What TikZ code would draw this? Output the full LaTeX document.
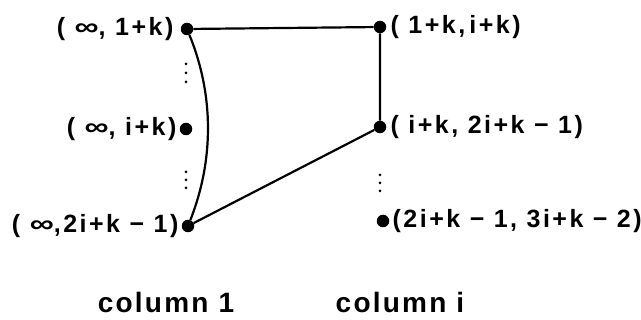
\documentclass[tikz,border=0pt]{standalone}
\usepackage{graphicx}
\usepackage{fontspec}
\setmainfont{Liberation Sans}
\newfontfamily\lblfont[LetterSpace=10]{Liberation Sans}
\newfontfamily\capfont[LetterSpace=8]{Liberation Sans}
\newcommand{\infsym}{\scalebox{1.35}[1]{∞}}
\usetikzlibrary{positioning}

\begin{document}
\begin{tikzpicture}[x=1pt,y=-1pt,
    vertex/.style={circle, fill=black, inner sep=0pt, minimum size=12.5pt},
    lbl/.style={font=\lblfont\bfseries\fontsize{25}{30}\selectfont, inner sep=1pt},
    caption/.style={font=\capfont\bfseries\fontsize{28}{32}\selectfont, inner sep=0pt, anchor=base},
    link/.style={line width=2.2pt}]
  \useasboundingbox (0,0) rectangle (641,320);
  % column 1
  \node[vertex] (a1) at (187,29) {};
  \node[vertex] (a2) at (186,129) {};
  \node[vertex] (a3) at (188,226) {};
  % column i
  \node[vertex] (b1) at (380,27) {};
  \node[vertex] (b2) at (380,127) {};
  \node[vertex] (b3) at (383,221) {};
  % labels
  \node[lbl, left=6pt of a1] (la1) {( \infsym, 1+k)};
  \node[lbl, left=2pt of a2] (la2) {( \infsym, i+k)};
  \node[lbl, left=2pt of a3] (la3) {( \infsym,2i+k − 1)};
  \node[lbl, right=3pt of b1] (lb1) {( 1+k,\,i+k)};
  \node[lbl, right=3pt of b2] (lb2) {( i+k, 2i+k − 1)};
  \node[lbl, right=2pt of b3] (lb3) {(2i+k − 1, 3i+k − 2)};
  % edges
  \draw[link] (a1) -- (b1) -- (b2) -- (a3);
  \draw[link] (a1) .. controls (214,95) and (214,160) .. (a3);
  % vertical dots
  \foreach \y in {64,73,82, 172,180,188}
    \fill (186,\y) circle (1.5);
  \foreach \y in {175,183,191}
    \fill (380,\y) circle (1.5);
  % column captions
  \node[caption] (c1) at (166,313) {column 1};
  \node[caption] (ci) at (400,313) {column i};
\end{tikzpicture}
\end{document}
